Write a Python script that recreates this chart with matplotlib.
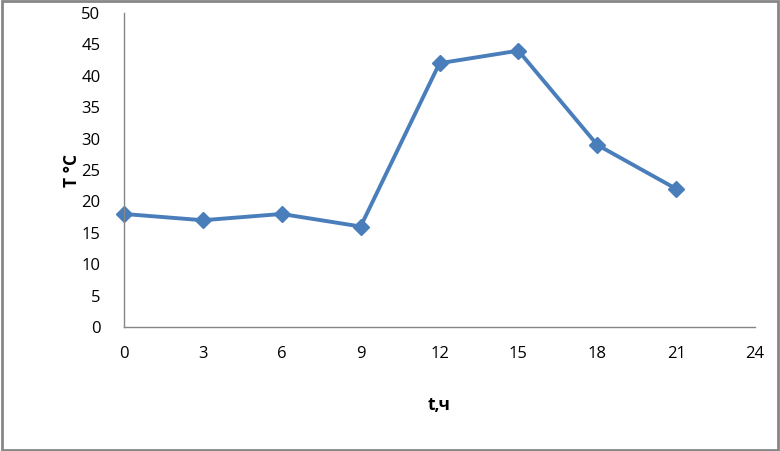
import matplotlib.pyplot as plt
from matplotlib.patches import Rectangle

hours = [0, 3, 6, 9, 12, 15, 18, 21]
temps = [18, 17, 18, 16, 42, 44, 29, 22]
xticks = [0, 3, 6, 9, 12, 15, 18, 21, 24]
yticks = [0, 5, 10, 15, 20, 25, 30, 35, 40, 45, 50]

plt.rcParams['font.family'] = ['Open Sans', 'DejaVu Sans']

fig = plt.figure(figsize=(7.8, 4.51), dpi=100)
ax = fig.add_axes([124 / 780, 1 - 327 / 451, 631 / 780, 314 / 451])

ax.plot(hours, temps, color='#4a7ebb', lw=2.8, marker='D', markersize=8,
        markerfacecolor='#4a7ebb', markeredgecolor='#4a7ebb', clip_on=False)

ax.set_xlim(0, 24)
ax.set_ylim(0, 50)
ax.set_xticks(xticks)
ax.set_yticks(yticks)
ax.tick_params(length=0, labelsize=12)
ax.tick_params(axis='y', pad=17)
ax.tick_params(axis='x', pad=14)

for s in ['top', 'right']:
    ax.spines[s].set_visible(False)
for s in ['left', 'bottom']:
    ax.spines[s].set_color('#868686')
    ax.spines[s].set_linewidth(1)

ax.set_xlabel('t,ч', fontsize=12.5, fontweight='bold', labelpad=24)
ax.set_ylabel('T °C', fontsize=12.5, fontweight='bold', labelpad=0)

fig.patches.append(Rectangle((0.002, 0.003), 0.996, 0.994, transform=fig.transFigure,
                             fill=False, edgecolor='#868686', lw=2))

fig.savefig('out.png', dpi=100)
